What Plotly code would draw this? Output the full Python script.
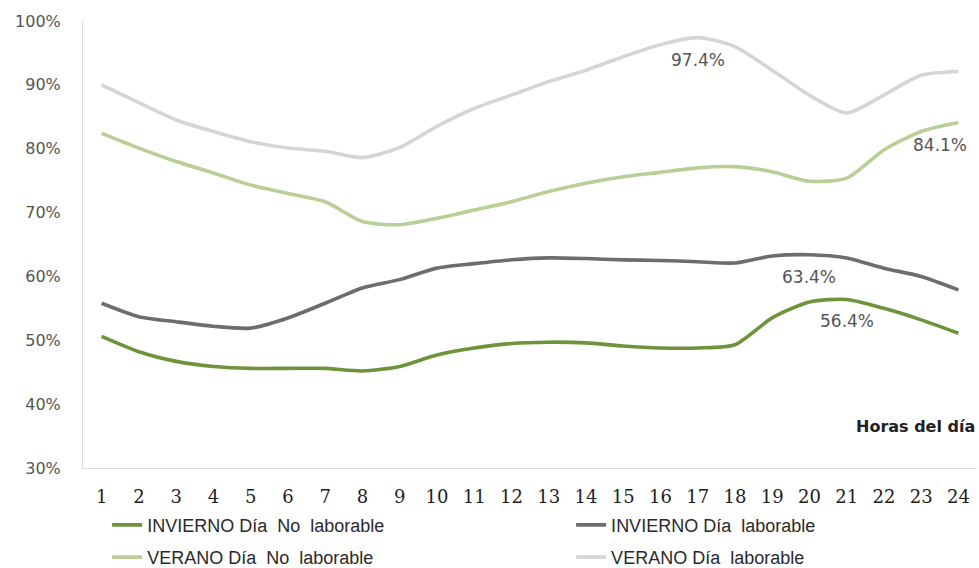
import plotly.graph_objects as go

# Hours of the day
hours = list(range(1, 25))

# Share (%) per hour for each season / day type
invierno_no_laborable = [50.6, 48.2, 46.7, 45.9, 45.6, 45.6, 45.6, 45.2, 45.9, 47.7, 48.8, 49.5,
                         49.7, 49.6, 49.1, 48.8, 48.8, 49.3, 53.5, 56.0, 56.4, 55.0, 53.2, 51.1]
invierno_laborable = [55.8, 53.7, 52.9, 52.2, 51.9, 53.5, 55.8, 58.2, 59.5, 61.3, 62.0, 62.6,
                      62.9, 62.8, 62.6, 62.5, 62.3, 62.1, 63.2, 63.4, 62.9, 61.3, 60.0, 57.9]
verano_no_laborable = [82.4, 80.1, 78.0, 76.2, 74.3, 73.0, 71.7, 68.6, 68.1, 69.1, 70.4, 71.7,
                       73.3, 74.6, 75.6, 76.3, 77.0, 77.2, 76.4, 74.9, 75.4, 79.8, 82.7, 84.1]
verano_laborable = [90.0, 87.2, 84.5, 82.7, 81.1, 80.1, 79.6, 78.6, 80.2, 83.5, 86.3, 88.4,
                    90.5, 92.3, 94.4, 96.3, 97.4, 96.0, 92.3, 88.4, 85.6, 88.4, 91.5, 92.1]

series_names = ["INVIERNO Día\u00a0 No\u00a0 laborable", "INVIERNO Día\u00a0 laborable",
                "VERANO Día\u00a0 No\u00a0 laborable", "VERANO Día\u00a0 laborable"]
series_values = [invierno_no_laborable, invierno_laborable, verano_no_laborable, verano_laborable]
series_colors = ["#6f933b", "#6d6d6d", "#b8cf95", "#d5d5d5"]

# One legend box per entry, laid out as a 2x2 grid under the axis
legend_ids = ["legend", "legend2", "legend3", "legend4"]
legend_x = [0.027, 0.546, 0.027, 0.546]
legend_y = [-0.128, -0.128, -0.2, -0.2]

# Hour at which each series carries a value label
label_hours = [21, 20, 24, 17]
label_xshift = [0, 0, -18, 0]

y_ticks = [30, 40, 50, 60, 70, 80, 90, 100]

fig = go.Figure()
for name, vals, color, leg in zip(series_names, series_values, series_colors, legend_ids):
    fig.add_trace(go.Scatter(
        x=hours, y=vals, name=name, mode="lines",
        line=dict(color=color, width=3.6, shape="spline", smoothing=0.7),
        legend=leg,
    ))

for vals, h, xs in zip(series_values, label_hours, label_xshift):
    v = vals[h - 1]
    fig.add_annotation(
        x=h, y=v, text=f"{v:.1f}%", showarrow=False,
        xshift=xs, yshift=-22,
        font=dict(family="DejaVu Sans", size=17, color="#555555"),
    )

fig.add_annotation(
    x=1.0, y=0.092, xref="paper", yref="paper", xanchor="right", yanchor="middle",
    text="<b>Horas del día</b>", showarrow=False,
    font=dict(family="DejaVu Sans", size=16, color="#222222"),
)

legend_layout = {}
for leg, lx, ly in zip(legend_ids, legend_x, legend_y):
    legend_layout[leg] = dict(
        orientation="h", xanchor="left", yanchor="middle", x=lx, y=ly,
        font=dict(family="Liberation Sans", size=18, color="#2a2a2a"),
        bgcolor="rgba(0,0,0,0)", itemclick=False, itemdoubleclick=False,
    )

fig.update_layout(
    width=979, height=568,
    margin=dict(l=83, r=2, t=21, b=100, autoexpand=False),
    paper_bgcolor="white", plot_bgcolor="white",
    showlegend=True,
    **legend_layout,
    xaxis=dict(
        range=[0.5, 24.5], tickmode="array", tickvals=hours,
        ticktext=[str(h) for h in hours],
        showgrid=False, zeroline=False,
        showline=True, linecolor="#dcdcdc", linewidth=1,
        ticks="outside", ticklen=12, tickcolor="rgba(0,0,0,0)",
        tickfont=dict(family="DejaVu Serif", size=18, color="#1e1e1e"),
    ),
    yaxis=dict(
        range=[30, 100], tickmode="array", tickvals=y_ticks,
        ticktext=[f"{t}%" for t in y_ticks],
        showgrid=False, zeroline=False,
        showline=True, linecolor="#dcdcdc", linewidth=1,
        ticks="outside", ticklen=18, tickcolor="rgba(0,0,0,0)",
        tickfont=dict(family="DejaVu Sans", size=16, color="#555555"),
    ),
)

fig.write_html("out.html")
